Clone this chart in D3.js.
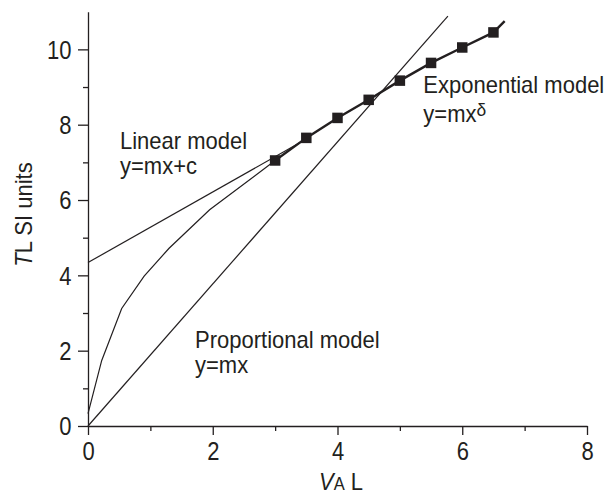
<!DOCTYPE html>
<html>
<head>
<meta charset="utf-8">
<script src="https://cdn.jsdelivr.net/npm/d3@7"></script>
<style>
  body { margin: 0; background: #fff; }
  svg { display: block; }
  text { font-family: "Liberation Sans", Arial, Helvetica, sans-serif; fill: #231f20; }
</style>
</head>
<body>
<div id="chart"></div>
<script>
// measured points (squares)
var pointX = [3, 3.5, 4, 4.5, 5, 5.5, 6, 6.5];
var pointY = [7.05, 7.65, 8.18, 8.66, 9.17, 9.64, 10.05, 10.45];

// exponential model, thin part towards the origin
var expCurveX = [0, 0.22, 0.54, 0.9, 1.3, 1.95, 3];
var expCurveY = [0.33, 1.74, 3.12, 3.98, 4.72, 5.74, 7.05];

// exponential model through the measured points (thick)
var expFitX = [3, 3.5, 4, 4.5, 5, 5.5, 6, 6.5, 6.68];
var expFitY = [7.05, 7.65, 8.18, 8.66, 9.17, 9.64, 10.05, 10.45, 10.75];

// linear and proportional models
var linearX = [0, 3.5];
var linearY = [4.34, 7.62];
var propX = [0, 5.77];
var propY = [0, 10.88];

var xMajor = [0, 2, 4, 6, 8];
var xMinor = [1, 3, 5, 7];
var yMajor = [0, 2, 4, 6, 8, 10];
var yMinor = [1, 3, 5, 7, 9];

var W = 605, H = 495;
var SX = 0.88; // condensed type

var svg = d3.select("#chart").append("svg")
    .attr("width", W)
    .attr("height", H);

var x = d3.scaleLinear().domain([0, 8]).range([88, 587]);
var y = d3.scaleLinear().domain([0, 11]).range([426, 11.7]);

var ink = "#231f20";

// axes
var xAxis = svg.append("g")
    .attr("transform", "translate(0," + y(0) + ")")
    .call(d3.axisBottom(x).tickValues(xMajor).tickSize(9).tickSizeOuter(0).tickFormat(d3.format("d")));
svg.append("g")
    .attr("transform", "translate(0," + y(0) + ")")
    .call(d3.axisBottom(x).tickValues(xMinor).tickSize(5).tickSizeOuter(0).tickFormat(""))
    .select(".domain").remove();

var yAxis = svg.append("g")
    .attr("transform", "translate(" + x(0) + ",0)")
    .call(d3.axisLeft(y).tickValues(yMajor).tickSize(10).tickSizeOuter(0).tickFormat(d3.format("d")));
svg.append("g")
    .attr("transform", "translate(" + x(0) + ",0)")
    .call(d3.axisLeft(y).tickValues(yMinor).tickSize(5).tickSizeOuter(0).tickFormat(""))
    .select(".domain").remove();

svg.selectAll(".domain, .tick line").attr("stroke", ink).attr("stroke-width", 1.3);

xAxis.selectAll(".tick text")
    .attr("y", 34).attr("dy", 0)
    .attr("transform", "scale(" + SX + ",1)")
    .style("font-size", "25px");

yAxis.selectAll(".tick text")
    .attr("x", -16.5 / SX).attr("dy", "0.35em")
    .attr("transform", "scale(" + SX + ",1)")
    .style("font-size", "25px");

// model lines
function toPts(xs, ys) {
    return xs.map(function(d, i) { return [d, ys[i]]; });
}
var line = d3.line()
    .x(function(d) { return x(d[0]); })
    .y(function(d) { return y(d[1]); });

svg.append("path").datum(toPts(propX, propY))
    .attr("d", line).attr("fill", "none").attr("stroke", ink).attr("stroke-width", 1.2);
svg.append("path").datum(toPts(linearX, linearY))
    .attr("d", line).attr("fill", "none").attr("stroke", ink).attr("stroke-width", 1.2);
svg.append("path").datum(toPts(expCurveX, expCurveY))
    .attr("d", line).attr("fill", "none").attr("stroke", ink).attr("stroke-width", 1.2);
svg.append("path").datum(toPts(expFitX, expFitY))
    .attr("d", line).attr("fill", "none").attr("stroke", ink).attr("stroke-width", 2.4);

// squares
var sq = 10.5;
svg.selectAll(".pt")
    .data(toPts(pointX, pointY))
    .enter().append("rect")
    .attr("class", "pt")
    .attr("x", function(d) { return x(d[0]) - sq / 2; })
    .attr("y", function(d) { return y(d[1]) - sq / 2; })
    .attr("width", sq).attr("height", sq)
    .attr("fill", ink);

// text labels, condensed
function label(px, py, parts, rotate, anchor) {
    var g = svg.append("g")
        .attr("transform", "translate(" + px + "," + py + ")" + (rotate ? " rotate(" + rotate + ")" : "") + " scale(" + (SX * 25 / 24) + ",1)");
    var t = g.append("text").style("font-size", "24px").attr("text-anchor", anchor || "start");
    parts.forEach(function(p) {
        var ts = t.append("tspan").text(p.t);
        if (p.italic) ts.style("font-style", "italic");
        if (p.size) ts.style("font-size", p.size + "px");
        if (p.dy) ts.attr("dy", p.dy);
    });
    return t;
}

label(120, 149, [{t: "Linear model"}]);
label(120, 174, [{t: "y=mx+c"}]);
label(195, 348.3, [{t: "Proportional model"}]);
label(195, 373.3, [{t: "y=mx"}]);
label(423.3, 93.3, [{t: "Exponential model"}]);
label(423.3, 121.7, [{t: "y=mx"}, {t: "\u03b4", size: 19, dy: -6}]);

// axis titles
label(341, 489.5, [{t: "V", italic: true}, {t: "A", size: 18}, {t: " L"}], 0, "middle");
label(32, 214.5, [{t: "T", italic: true}, {t: "L SI units"}], -90, "middle");
</script>
</body>
</html>
